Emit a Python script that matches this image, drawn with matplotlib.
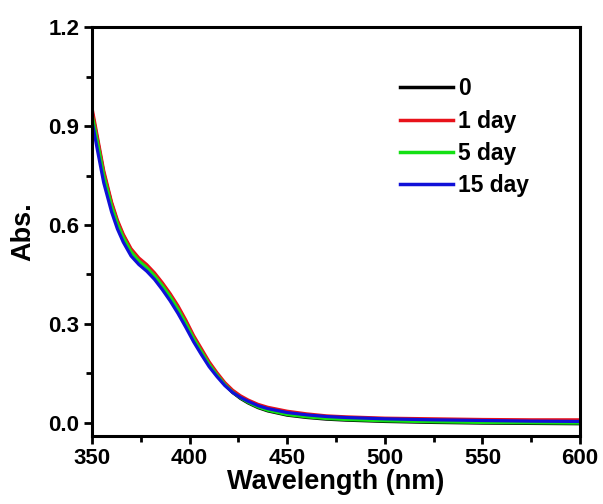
import matplotlib
matplotlib.use('Agg')
import matplotlib.pyplot as plt
from matplotlib.ticker import MultipleLocator, FormatStrFormatter

plt.rcParams['font.family'] = ['Liberation Sans', 'DejaVu Sans']
plt.rcParams['font.weight'] = 'bold'

# wavelength grid (nm)
wl = [350, 353, 356, 360, 363, 366, 370, 374, 378, 382, 386, 390, 394, 398,
      402, 406, 410, 414, 418, 422, 426, 430, 435, 440, 450, 460, 470, 480,
      500, 525, 550, 575, 600]

abs_1day = [0.955, 0.86, 0.765, 0.67, 0.615, 0.572, 0.528, 0.500, 0.480, 0.455,
            0.425, 0.392, 0.355, 0.312, 0.265, 0.225, 0.185, 0.152, 0.122, 0.099,
            0.082, 0.069, 0.056, 0.047, 0.035, 0.027, 0.021, 0.018, 0.014, 0.012,
            0.010, 0.009, 0.009]
abs_0 = [0.945, 0.852, 0.758, 0.665, 0.610, 0.568, 0.524, 0.496, 0.476, 0.451,
         0.421, 0.388, 0.350, 0.307, 0.260, 0.219, 0.179, 0.146, 0.116, 0.092,
         0.074, 0.060, 0.046, 0.036, 0.023, 0.016, 0.011, 0.008, 0.004, 0.001,
         -0.001, -0.002, -0.003]
abs_5day = [0.935, 0.845, 0.750, 0.658, 0.604, 0.562, 0.519, 0.491, 0.471, 0.446,
            0.416, 0.383, 0.345, 0.302, 0.256, 0.216, 0.177, 0.145, 0.116, 0.093,
            0.076, 0.062, 0.048, 0.038, 0.025, 0.018, 0.013, 0.010, 0.006, 0.003,
            0.001, 0.000, -0.001]
abs_15day = [0.915, 0.820, 0.728, 0.640, 0.588, 0.548, 0.506, 0.480, 0.460, 0.435,
             0.404, 0.370, 0.332, 0.290, 0.246, 0.207, 0.170, 0.140, 0.113, 0.092,
             0.077, 0.065, 0.052, 0.043, 0.031, 0.024, 0.019, 0.016, 0.012, 0.009,
             0.007, 0.005, 0.004]

labels = ['0', '1 day', '5 day', '15 day']
colors = ['#000000', '#e8121a', '#14e014', '#1010d8']

fig = plt.figure(figsize=(6.03, 5.04), dpi=100)
ax = fig.add_axes([0.1526, 0.135, 0.8094, 0.811])

series = [abs_0, abs_1day, abs_5day, abs_15day]
for y, lab, c in zip(series, labels, colors):
    ax.plot(wl, y, color=c, lw=2.3, label=lab)

ax.set_xlim(350, 600)
ax.set_ylim(-0.04, 1.2)
ax.xaxis.set_major_locator(MultipleLocator(50))
ax.xaxis.set_minor_locator(MultipleLocator(25))
ax.yaxis.set_major_locator(MultipleLocator(0.3))
ax.yaxis.set_minor_locator(MultipleLocator(0.15))
ax.yaxis.set_major_formatter(FormatStrFormatter('%.1f'))

for s in ax.spines.values():
    s.set_linewidth(2.2)
ax.tick_params(which='major', direction='out', length=6, width=2, labelsize=16,
               top=False, right=False, pad=3)
ax.tick_params(which='minor', direction='out', length=4, width=2,
               top=False, right=False)

ax.set_xlabel('Wavelength (nm)', fontsize=19.5, fontweight='bold', labelpad=0)
ax.set_ylabel('Abs.', fontsize=19.5, fontweight='bold', labelpad=9)

leg = ax.legend(loc='upper left', bbox_to_anchor=(0.631, 0.877), frameon=False,
                fontsize=16.5, handlelength=2.3, handletextpad=0.25,
                labelspacing=0.4, borderpad=0, borderaxespad=0)
for line in leg.get_lines():
    line.set_linewidth(2.5)

fig.savefig('out.png', dpi=100)
